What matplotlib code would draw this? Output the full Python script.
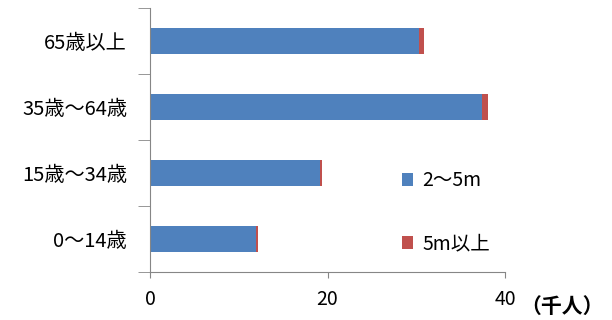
import matplotlib
matplotlib.use("Agg")
import matplotlib.pyplot as plt
from matplotlib.ticker import FixedLocator

plt.rcParams['font.family'] = ['Noto Sans CJK JP', 'DejaVu Sans']

categories = ['0〜14歳', '15歳〜34歳', '35歳〜64歳', '65歳以上']
v_2to5 = [11.9, 19.1, 37.4, 30.3]     # 2〜5m (千人)
v_over5 = [0.25, 0.3, 0.7, 0.6]       # 5m以上 (千人)
labels = ['2〜5m', '5m以上']
xticks = [0, 20, 40]

blue = '#4F81BD'
red = '#C0504D'
grey = '#868686'

fig = plt.figure(figsize=(6.12, 3.2), dpi=100)
ax = fig.add_axes([150/612, 48/320, 355/612, 264/320])

y = range(len(categories))
ax.barh(y, v_2to5, height=0.4, color=blue, label=labels[0])
ax.barh(y, v_over5, left=v_2to5, height=0.4, color=red, label=labels[1])

ax.set_xlim(0, 40)
ax.set_ylim(-0.5, len(categories) - 0.5)
ax.set_xticks(xticks)
ax.set_yticks(list(y))
ax.set_yticklabels(categories, fontsize=14.5)
ax.yaxis.set_minor_locator(FixedLocator([i - 0.5 for i in range(len(categories) + 1)]))
ax.tick_params(axis='y', which='major', length=0, pad=16.5)
ax.tick_params(axis='y', which='minor', length=8.6, color=grey, direction='out')
ax.tick_params(axis='x', length=4.3, color=grey, labelsize=14, pad=8)

for s in ['top', 'right']:
    ax.spines[s].set_visible(False)
for s in ['left', 'bottom']:
    ax.spines[s].set_color(grey)

ax.legend(loc='lower left', bbox_to_anchor=(244/355, 10/264), frameon=False,
          fontsize=14, handlelength=0.6, handleheight=0.6, handletextpad=0.45,
          labelspacing=2.15, borderaxespad=0)

fig.text(520/612, 14/320, '（千人）', fontsize=15, fontweight='bold', va='center', ha='left')

fig.savefig('out.png', dpi=100)
